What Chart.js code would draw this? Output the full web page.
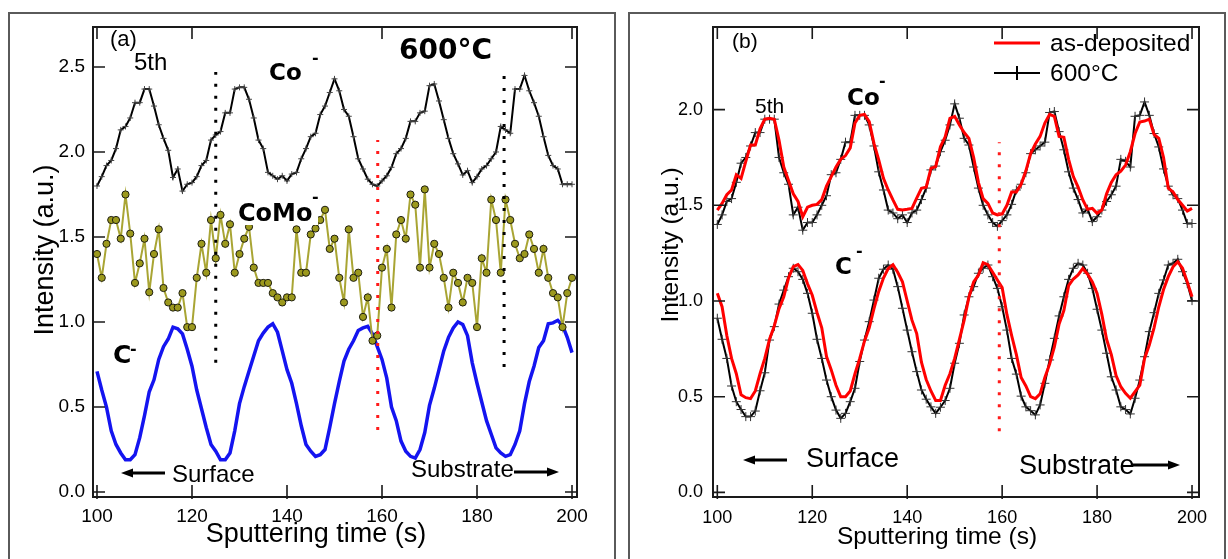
<!DOCTYPE html>
<html>
<head>
<meta charset="utf-8">
<script src="https://cdn.jsdelivr.net/npm/chart.js@4"></script>
<style>
  body { margin: 0; background: #fff; width: 1228px; height: 559px; overflow: hidden; position: relative; }
  .frame { position: absolute; top: 12px; height: 560px; box-sizing: border-box; border: 2px solid #5a5a5a; border-bottom: none; }
  #frameA { left: 8px; width: 608px; }
  #frameB { left: 628px; width: 598px; }
  .panel { position: absolute; top: 0; width: 614px; height: 559px; }
  #wrapA { left: 0; }
  #wrapB { left: 614px; }
</style>
</head>
<body>
<div class="frame" id="frameA"></div>
<div class="frame" id="frameB"></div>
<div class="panel" id="wrapA"><canvas id="chartA" width="614" height="559"></canvas></div>
<div class="panel" id="wrapB"><canvas id="chartB" width="614" height="559"></canvas></div>
<script>
// ---- data ----

// sputtering time, s
const time = [
  100,101,102,103,104,105,106,107,108,109,110,111,112,113,114,115,116,117,118,119,
  120,121,122,123,124,125,126,127,128,129,130,131,132,133,134,135,136,137,138,139,
  140,141,142,143,144,145,146,147,148,149,150,151,152,153,154,155,156,157,158,159,
  160,161,162,163,164,165,166,167,168,169,170,171,172,173,174,175,176,177,178,179,
  180,181,182,183,184,185,186,187,188,189,190,191,192,193,194,195,196,197,198,199,
  200
];

// panel (a): 600°C sample
const coA = [
  1.80,1.855,1.92,1.95,2.02,2.13,2.15,2.20,2.29,2.29,
  2.37,2.37,2.27,2.16,2.08,2.01,1.85,1.90,1.77,1.81,
  1.82,1.855,1.92,1.95,2.07,2.10,2.12,2.23,2.23,2.37,
  2.38,2.38,2.31,2.20,2.07,2.02,1.88,1.86,1.84,1.86,
  1.83,1.87,1.88,1.96,2.02,2.09,2.11,2.22,2.27,2.35,
  2.43,2.36,2.25,2.21,2.09,1.96,1.90,1.84,1.81,1.80,
  1.83,1.86,1.91,1.99,2.02,2.08,2.18,2.18,2.23,2.24,
  2.39,2.40,2.30,2.19,2.08,1.99,1.93,1.865,1.89,1.82,
  1.855,1.90,1.92,1.96,2.00,2.15,2.13,2.11,2.37,2.37,
  2.45,2.36,2.29,2.21,2.09,1.98,1.92,1.90,1.81,1.81,
  1.81
];
const comoA = [
  1.40,1.26,1.46,1.60,1.60,1.49,1.75,1.52,1.23,1.345,
  1.49,1.175,1.40,1.545,1.20,1.115,1.085,1.085,1.17,0.97,
  0.97,1.26,1.46,1.29,1.60,1.375,1.63,1.46,1.575,1.29,
  1.40,1.49,1.56,1.32,1.23,1.23,1.23,1.17,1.145,1.115,
  1.145,1.145,1.545,1.29,1.29,1.515,1.55,1.60,1.66,1.43,
  1.49,1.26,1.115,1.545,1.26,1.29,1.03,1.145,0.89,0.92,
  1.32,1.43,1.085,1.515,1.60,1.49,1.75,1.69,1.32,1.78,
  1.32,1.46,1.40,1.26,1.085,1.29,1.23,1.115,1.26,1.23,
  0.97,1.375,1.29,1.72,1.60,1.29,1.72,1.60,1.46,1.375,
  1.40,1.515,1.43,1.29,1.43,1.26,1.17,1.145,0.97,1.17,
  1.26
];
const cA = [
  0.71,0.60,0.50,0.36,0.28,0.23,0.19,0.19,0.22,0.32,
  0.45,0.59,0.66,0.78,0.855,0.90,0.97,0.96,0.93,0.84,
  0.74,0.60,0.49,0.38,0.28,0.24,0.19,0.19,0.23,0.36,
  0.52,0.62,0.71,0.80,0.89,0.935,0.97,0.99,0.94,0.83,
  0.72,0.64,0.52,0.39,0.28,0.24,0.21,0.22,0.25,0.38,
  0.52,0.65,0.77,0.84,0.89,0.95,0.965,0.975,0.93,0.855,
  0.78,0.67,0.50,0.42,0.30,0.24,0.21,0.20,0.25,0.35,
  0.51,0.61,0.72,0.83,0.91,0.965,1.00,0.985,0.92,0.76,
  0.64,0.53,0.42,0.34,0.26,0.23,0.21,0.22,0.28,0.36,
  0.52,0.65,0.74,0.85,0.89,0.99,0.995,1.01,0.98,0.91,
  0.82
];
// dotted guides in (a): time, lower end, upper end
const guideTimeA = [125, 159.1, 185.7];
const guideLowA = [0.76, 0.365, 0.735];
const guideHighA = [2.47, 2.07, 2.45];

// panel (b): as-deposited vs 600°C
const coB600 = [
  1.40,1.45,1.52,1.535,1.62,1.72,1.75,1.81,1.88,1.88,
  1.95,1.95,1.95,1.75,1.67,1.61,1.45,1.49,1.37,1.41,
  1.41,1.45,1.50,1.55,1.66,1.67,1.74,1.83,1.83,1.97,
  1.97,1.97,1.92,1.81,1.675,1.58,1.475,1.46,1.43,1.45,
  1.41,1.46,1.475,1.53,1.59,1.685,1.705,1.78,1.84,1.92,
  2.03,1.955,1.85,1.815,1.70,1.59,1.50,1.45,1.41,1.39,
  1.42,1.45,1.505,1.58,1.61,1.67,1.77,1.79,1.81,1.83,
  1.985,1.99,1.885,1.79,1.675,1.59,1.53,1.46,1.48,1.415,
  1.44,1.475,1.52,1.555,1.60,1.74,1.73,1.70,1.965,1.97,
  2.04,1.97,1.875,1.805,1.69,1.60,1.555,1.535,1.475,1.405,
  1.405
];
const coBDep = [
  1.475,1.51,1.555,1.58,1.66,1.64,1.73,1.815,1.815,1.90,
  1.95,1.955,1.95,1.84,1.70,1.63,1.56,1.52,1.44,1.49,
  1.50,1.505,1.53,1.60,1.65,1.70,1.74,1.76,1.80,1.93,
  1.97,1.975,1.937,1.824,1.737,1.641,1.58,1.528,1.479,1.475,
  1.479,1.484,1.537,1.589,1.594,1.693,1.702,1.806,1.858,1.954,
  1.965,1.92,1.88,1.85,1.75,1.62,1.535,1.51,1.46,1.45,
  1.455,1.50,1.57,1.57,1.61,1.68,1.77,1.82,1.86,1.93,
  1.975,1.965,1.86,1.855,1.74,1.65,1.595,1.528,1.479,1.484,
  1.458,1.475,1.56,1.62,1.66,1.678,1.71,1.78,1.875,1.935,
  1.94,1.95,1.87,1.85,1.75,1.59,1.57,1.53,1.50,1.47,
  1.484
];
const cB600 = [
  0.91,0.80,0.70,0.556,0.474,0.433,0.396,0.396,0.425,0.531,
  0.625,0.796,0.866,0.984,1.057,1.127,1.171,1.153,1.113,1.04,
  0.936,0.80,0.70,0.587,0.50,0.43,0.387,0.413,0.474,0.544,
  0.684,0.796,0.892,1.005,1.119,1.166,1.188,1.166,1.075,0.962,
  0.848,0.735,0.631,0.535,0.487,0.447,0.413,0.445,0.48,0.544,
  0.675,0.779,0.927,1.022,1.075,1.145,1.171,1.188,1.127,1.066,
  0.97,0.848,0.70,0.618,0.503,0.447,0.427,0.405,0.457,0.57,
  0.692,0.805,0.922,1.022,1.113,1.171,1.197,1.188,1.145,1.066,
  0.957,0.848,0.727,0.604,0.535,0.447,0.433,0.41,0.492,0.587,
  0.709,0.84,0.939,1.04,1.11,1.188,1.197,1.218,1.153,1.092,
  1.002
];
const cBDep = [
  1.04,0.97,0.82,0.70,0.62,0.51,0.495,0.49,0.53,0.62,
  0.70,0.80,0.87,0.96,1.022,1.12,1.18,1.19,1.16,1.09,
  1.03,0.94,0.86,0.71,0.64,0.56,0.50,0.50,0.53,0.62,
  0.70,0.79,0.86,0.96,1.05,1.12,1.17,1.19,1.15,1.10,
  1.00,0.90,0.83,0.68,0.59,0.53,0.48,0.48,0.56,0.62,
  0.70,0.80,0.90,1.02,1.10,1.135,1.20,1.19,1.15,1.11,
  1.07,0.93,0.82,0.72,0.60,0.556,0.50,0.49,0.515,0.60,
  0.67,0.76,0.88,0.95,1.08,1.115,1.136,1.17,1.14,1.10,
  1.04,0.93,0.80,0.72,0.61,0.552,0.518,0.492,0.527,0.56,
  0.70,0.77,0.86,0.97,1.06,1.127,1.179,1.205,1.171,1.10,
  1.022
];
const guideTimeB = [159.4];
const guideLowB = [0.32];
const guideHighB = [1.83];

// tick labels
const xTicks = [100, 120, 140, 160, 180, 200];
const yTicksA = [0, 0.5, 1, 1.5, 2, 2.5];
const yTicksB = [0, 0.5, 1, 1.5, 2];

// ---- helpers ----
const SANS = '"Liberation Sans", Arial, sans-serif';
const BOLD = '"DejaVu Sans", sans-serif';
Chart.defaults.font.family = SANS;
Chart.defaults.color = '#000';

const pts = arr => time.map((t, i) => ({ x: t, y: arr[i] }));
const guide = (t, lo, hi) => [{ x: t, y: lo }, { x: t, y: hi }];

function guideSet(t, lo, hi, color) {
    return {
        data: guide(t, lo, hi),
        borderColor: color,
        borderWidth: 3,
        borderDash: [3, 9],
        borderCapStyle: 'butt',
        pointRadius: 0
    };
}

// box around the plot with inward ticks on every side
const boxTicks = {
    id: 'boxTicks',
    afterDraw(chart, args, opts) {
        const { ctx, chartArea: a, scales: { x, y } } = chart;
        const len = opts.len;
        ctx.save();
        ctx.strokeStyle = '#1a1a1a';
        ctx.lineWidth = 2;
        ctx.strokeRect(a.left, a.top, a.right - a.left, a.bottom - a.top);
        ctx.lineWidth = 1.6;
        ctx.beginPath();
        opts.bottom.forEach(v => {
            const p = x.getPixelForValue(v);
            ctx.moveTo(p, a.bottom + 2); ctx.lineTo(p, a.bottom - len);
        });
        opts.top.forEach(v => {
            const p = x.getPixelForValue(v);
            ctx.moveTo(p, a.top); ctx.lineTo(p, a.top + len);
        });
        opts.left.forEach(v => {
            const p = y.getPixelForValue(v);
            ctx.moveTo(a.left, p); ctx.lineTo(a.left + len, p);
        });
        opts.right.forEach(v => {
            const p = y.getPixelForValue(v);
            ctx.moveTo(a.right, p); ctx.lineTo(a.right - len, p);
        });
        ctx.stroke();
        ctx.restore();
    }
};

// text labels, arrows, axis titles and the legend of panel (b)
const decor = {
    id: 'decor',
    afterDatasetsDraw(chart, args, opts) {
        const ctx = chart.ctx;
        ctx.save();
        ctx.fillStyle = '#000';
        ctx.strokeStyle = '#000';

        (opts.boxes || []).forEach(b => {
            ctx.fillStyle = '#fff';
            ctx.fillRect(b[0], b[1], b[2], b[3]);
        });

        (opts.arrows || []).forEach(([x0, x1, y, dir]) => {
            const tip = dir === 'left' ? x0 : x1;
            const s = dir === 'left' ? 1 : -1;
            ctx.lineWidth = 3;
            ctx.beginPath();
            ctx.moveTo(x0 + (dir === 'left' ? 8 : 0), y);
            ctx.lineTo(x1 - (dir === 'left' ? 0 : 8), y);
            ctx.stroke();
            ctx.fillStyle = '#000';
            ctx.beginPath();
            ctx.moveTo(tip, y);
            ctx.lineTo(tip + s * 12, y - 4.5);
            ctx.lineTo(tip + s * 12, y + 4.5);
            ctx.closePath();
            ctx.fill();
        });

        if (opts.legend) {
            const sets = chart.data.datasets;
            opts.legend.forEach(([idx, x0, x1, y, tx, ty, label]) => {
                const ds = sets[idx];
                ctx.strokeStyle = ds.borderColor;
                ctx.lineWidth = ds.borderWidth;
                ctx.beginPath();
                ctx.moveTo(x0, y); ctx.lineTo(x1, y);
                if (ds.pointStyle === 'cross') {
                    const cx = (x0 + x1) / 2;
                    ctx.moveTo(cx, y - 7); ctx.lineTo(cx, y + 7);
                }
                ctx.stroke();
                ctx.fillStyle = '#000';
                ctx.font = '24.5px ' + SANS;
                ctx.textAlign = 'left';
                ctx.fillText(label, tx, ty);
            });
        }

        opts.texts.forEach(([str, x, y, font, how]) => {
            ctx.save();
            ctx.fillStyle = '#000';
            ctx.font = font;
            ctx.textBaseline = 'alphabetic';
            ctx.textAlign = how && how.center ? 'center' : 'left';
            if (how && how.rotate) {
                ctx.translate(x, y);
                ctx.rotate(-Math.PI / 2);
                ctx.fillText(str, 0, 0);
            } else {
                ctx.fillText(str, x, y);
            }
            ctx.restore();
        });
        ctx.restore();
    }
};

function axisOptions(cfg) {
    return {
        x: {
            type: 'linear',
            min: cfg.xMin, max: cfg.xMax,
            afterBuildTicks: s => { s.ticks = xTicks.map(v => ({ value: v })); },
            afterFit: s => { s.height = cfg.xHeight; },
            grid: { display: false, drawTicks: false },
            border: { display: false },
            ticks: { font: { size: cfg.tickSize }, padding: cfg.xPad, autoSkip: false, maxRotation: 0, color: '#000' }
        },
        y: {
            type: 'linear',
            min: cfg.yMin, max: cfg.yMax,
            afterBuildTicks: s => { s.ticks = cfg.yTicks.map(v => ({ value: v })); },
            afterFit: s => { s.width = cfg.yWidth; },
            grid: { display: false, drawTicks: false },
            border: { display: false },
            ticks: { font: { size: cfg.tickSize }, padding: cfg.yPad, color: '#000',
                     callback: v => v.toFixed(1) }
        }
    };
}

// ---- panel (a) ----
new Chart(document.getElementById('chartA'), {
    type: 'line',
    data: {
        datasets: [
            guideSet(guideTimeA[0], guideLowA[0], guideHighA[0], '#000'),
            guideSet(guideTimeA[1], guideLowA[1], guideHighA[1], '#ff1a1a'),
            guideSet(guideTimeA[2], guideLowA[2], guideHighA[2], '#000'),
            {
                label: 'Co-', data: pts(coA),
                borderColor: '#000', borderWidth: 2,
                pointStyle: 'cross', pointRadius: 3, pointBorderWidth: 1, pointBorderColor: '#444'
            },
            {
                label: 'CoMo-', data: pts(comoA),
                borderColor: '#a9a534', borderWidth: 2,
                pointRadius: 3.6, pointBackgroundColor: '#9c991d', pointBorderColor: '#1e1e10', pointBorderWidth: 1
            },
            {
                label: 'C-', data: pts(cA),
                borderColor: '#1414f0', borderWidth: 3.5, pointRadius: 0
            }
        ]
    },
    options: {
        responsive: false,
        animation: false,
        events: [],
        layout: { padding: { top: 27, right: 37, left: 0, bottom: 0 } },
        scales: axisOptions({
            xMin: 99.16, xMax: 201.05, yMin: -0.029, yMax: 2.735,
            yTicks: yTicksA, tickSize: 19, xPad: 8, yPad: 8, yWidth: 93, xHeight: 62
        }),
        plugins: {
            legend: { display: false },
            tooltip: { enabled: false },
            boxTicks: { len: 12, bottom: xTicks, top: [100, 120, 160, 200], left: yTicksA, right: yTicksA },
            decor: {
                boxes: [[236, 197, 82, 28]],
                arrows: [[121, 165, 473, 'left'], [514, 559, 472, 'right']],
                texts: [
                    ['(a)', 110, 46, '22px ' + SANS],
                    ['5th', 134, 70, '24px ' + SANS],
                    ['Co', 269, 80, 'bold 23px ' + BOLD],
                    ['-', 312, 63, 'bold 16px ' + BOLD],
                    ['600°C', 399, 59, 'bold 28px ' + BOLD],
                    ['CoMo', 238, 221, 'bold 24px ' + BOLD],
                    ['-', 312, 202, 'bold 16px ' + BOLD],
                    ['C', 113, 363, 'bold 25px ' + BOLD],
                    ['-', 130, 354, 'bold 16px ' + BOLD],
                    ['Surface', 172, 482, '24px ' + SANS],
                    ['Substrate', 411, 477, '24px ' + SANS],
                    ['Intensity (a.u.)', 53, 250, '27px ' + SANS, { rotate: true, center: true }],
                    ['Sputtering time (s)', 316, 542, '27px ' + SANS, { center: true }]
                ]
            }
        }
    },
    plugins: [boxTicks, decor]
});

// ---- panel (b) ----
new Chart(document.getElementById('chartB'), {
    type: 'line',
    data: {
        datasets: [
            guideSet(guideTimeB[0], guideLowB[0], guideHighB[0], '#ff1a1a'),
            {
                label: 'as-deposited', data: pts(coBDep),
                borderColor: '#ff0000', borderWidth: 3, pointRadius: 0
            },
            {
                label: 'as-deposited', data: pts(cBDep),
                borderColor: '#ff0000', borderWidth: 3, pointRadius: 0
            },
            {
                label: '600°C', data: pts(coB600),
                borderColor: '#000', borderWidth: 2,
                pointStyle: 'cross', pointRadius: 4.5, pointBorderWidth: 1, pointBorderColor: '#333'
            },
            {
                label: '600°C', data: pts(cB600),
                borderColor: '#000', borderWidth: 2,
                pointStyle: 'cross', pointRadius: 4.5, pointBorderWidth: 1, pointBorderColor: '#333'
            }
        ]
    },
    options: {
        responsive: false,
        animation: false,
        events: [],
        layout: { padding: { top: 27, right: 29, left: 0, bottom: 0 } },
        scales: axisOptions({
            xMin: 99.09, xMax: 201.47, yMin: -0.024, yMax: 2.4316,
            yTicks: yTicksB, tickSize: 18, xPad: 10, yPad: 10, yWidth: 99, xHeight: 62
        }),
        plugins: {
            legend: { display: false },
            tooltip: { enabled: false },
            boxTicks: { len: 12, bottom: xTicks, top: xTicks, left: yTicksB, right: yTicksB },
            decor: {
                legend: [[1, 380, 426, 43, 436, 51, 'as-deposited'], [3, 380, 426, 73, 436, 81, '600°C']],
                arrows: [[129, 173, 460, 'left'], [517, 566, 465, 'right']],
                texts: [
                    ['(b)', 118, 48, '21px ' + SANS],
                    ['5th', 141, 113, '21px ' + SANS],
                    ['Co', 233, 105, 'bold 23px ' + BOLD],
                    ['-', 265, 86, 'bold 16px ' + BOLD],
                    ['C', 221, 274, 'bold 23px ' + BOLD],
                    ['-', 242, 256, 'bold 16px ' + BOLD],
                    ['Surface', 192, 467, '27px ' + SANS],
                    ['Substrate', 405, 474, '27px ' + SANS],
                    ['Intensity (a.u.)', 64, 245, '24.5px ' + SANS, { rotate: true, center: true }],
                    ['Sputtering time (s)', 323, 544, '24.5px ' + SANS, { center: true }]
                ]
            }
        }
    },
    plugins: [boxTicks, decor]
});
</script>
</body>
</html>
